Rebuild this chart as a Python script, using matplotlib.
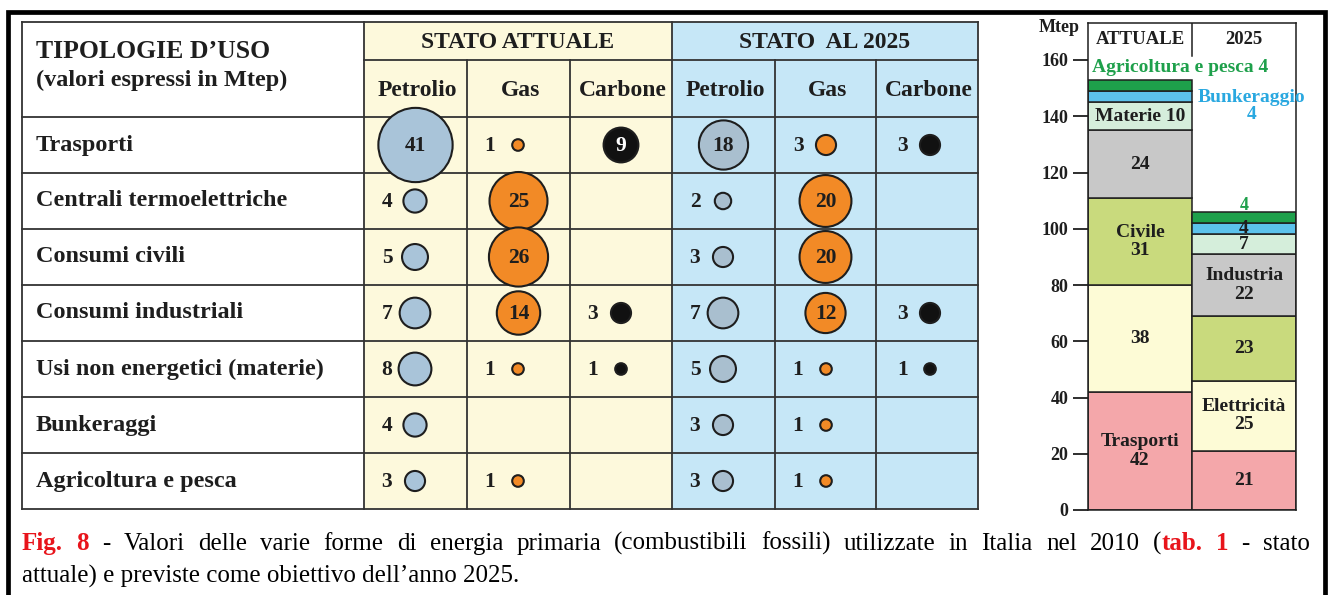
import numpy as np
import matplotlib
matplotlib.use("Agg")
import matplotlib.pyplot as plt
from matplotlib.patches import Circle, Rectangle

plt.rcParams['font.family'] = ['Liberation Serif', 'DejaVu Serif']

# --- table data (Mtep) ---
categories = ["Trasporti", "Centrali termoelettriche", "Consumi civili",
              "Consumi industriali", "Usi non energetici (materie)",
              "Bunkeraggi", "Agricoltura e pesca"]
fuels = ["Petrolio", "Gas", "Carbone"]
attuale_petrolio = [41, 4, 5, 7, 8, 4, 3]
attuale_gas = [1, 25, 26, 14, 1, None, 1]
attuale_carbone = [9, None, None, 3, 1, None, None]
s2025_petrolio = [18, 2, 3, 7, 5, 3, 3]
s2025_gas = [3, 20, 20, 12, 1, 1, 1]
s2025_carbone = [3, None, None, 3, 1, None, None]

# --- stacked bar data (Mtep) ---
bar_groups = ["ATTUALE", "2025"]
bar_attuale = [42, 38, 31, 24, 10, 4, 4]
bar_2025 = [21, 25, 23, 22, 7, 4, 4]
labels_attuale = ["Trasporti\n42", "38", "Civile\n31", "24", "Materie 10", "", ""]
labels_2025 = ["21", "Elettricità\n25", "23", "Industria\n22", "7", "4", ""]
bar_yticks = [0, 20, 40, 60, 80, 100, 120, 140, 160]

seg_colors = ["#f4a7aa", "#fdfbd6", "#c9da7d", "#c8c8c8", "#d5eedb", "#5cc2ec", "#1ea04b"]
fuel_colors = ["#a9c4d9", "#f28a26", "#111111"]
ink = "#1e1e1e"

fig = plt.figure(figsize=(13.28, 5.95), dpi=100)
ax = fig.add_axes([0, 0, 1, 1])
ax.set_xlim(0, 1328)
ax.set_ylim(595, 0)
ax.axis("off")

# outer frame
ax.plot([8, 8, 1325, 1325], [598, 12, 12, 598], color="black", lw=3.4,
        solid_joinstyle="miter", zorder=5)

# table geometry (pixels)
x_left = 22
col_x = [364, 467, 570, 672, 775, 876, 978]
y_top, y_head, y_sub = 22, 60, 117
row_h = 56
y_rows = [y_sub + i * row_h for i in range(len(categories) + 1)]
y_bot = y_rows[-1]

ax.add_patch(Rectangle((col_x[0], y_top), col_x[3] - col_x[0], y_bot - y_top,
                       fc="#fdf9dc", ec="none", zorder=0))
ax.add_patch(Rectangle((col_x[3], y_top), col_x[6] - col_x[3], y_bot - y_top,
                       fc="#c6e7f7", ec="none", zorder=0))

lw_grid = 1.3
for y in [y_top] + y_rows:
    ax.plot([x_left, col_x[6]], [y, y], color="#333", lw=lw_grid, zorder=1)
ax.plot([col_x[0], col_x[6]], [y_head, y_head], color="#333", lw=lw_grid, zorder=1)
for x in [x_left, col_x[0], col_x[3], col_x[6]]:
    ax.plot([x, x], [y_top, y_bot], color="#333", lw=lw_grid, zorder=1)
for x in [col_x[1], col_x[2], col_x[4], col_x[5]]:
    ax.plot([x, x], [y_head, y_bot], color="#333", lw=lw_grid, zorder=1)

bold = dict(fontweight="bold", color=ink)
ax.text(36, 52, "TIPOLOGIE D’USO", fontsize=18.5, va="center", ha="left", **bold)
ax.text(36, 80, "(valori espressi in Mtep)", fontsize=17.5, va="center", ha="left", **bold)
ax.text((col_x[0] + col_x[3]) / 2, 42, "STATO ATTUALE", fontsize=17, ha="center", va="center", **bold)
ax.text((col_x[3] + col_x[6]) / 2, 42, "STATO  AL 2025", fontsize=17, ha="center", va="center", **bold)
for k in range(6):
    ax.text((col_x[k] + col_x[k + 1]) / 2 + 2, 90, fuels[k % 3], fontsize=17,
            ha="center", va="center", **bold)

for i, name in enumerate(categories):
    ax.text(36, y_rows[i] + row_h / 2, name, fontsize=17.5, ha="left", va="center", **bold)

columns = [attuale_petrolio, attuale_gas, attuale_carbone,
           s2025_petrolio, s2025_gas, s2025_carbone]
for k, vals in enumerate(columns):
    left = col_x[k]
    fc = fuel_colors[k % 3]
    if k == 3:
        fc = "#a9bfcf"
    for i, v in enumerate(vals):
        if v is None:
            continue
        cy = y_rows[i] + row_h / 2
        r = 5.8 * np.sqrt(v)
        if v >= 9:
            cx = (left + col_x[k + 1]) / 2
            ax.add_patch(Circle((cx, cy), r, fc=fc, ec=ink, lw=1.5, zorder=3))
            tc = "white" if k % 3 == 2 else ink
            ax.text(cx, cy + 1, str(v), fontsize=15.5, ha="center", va="center",
                    fontweight="bold", color=tc, zorder=4)
        else:
            cx = left + (54 if k == 5 else 51)
            ax.add_patch(Circle((cx, cy), r, fc=fc, ec=ink, lw=1.5, zorder=3))
            ax.text(left + (27 if k == 5 else 23), cy + 1, str(v), fontsize=15.5,
                    ha="center", va="center", zorder=4, **bold)

# caption (line 1 justified)
red = "#e8141b"
groups = [[("Fig.", red, "bold")], [("8", red, "bold")], [("-", "black", "normal")]]
for w in "Valori delle varie forme di energia primaria (combustibili fossili) utilizzate in Italia nel 2010".split():
    groups.append([(w, "black", "normal")])
groups += [[("(", "black", "normal"), ("tab.", red, "bold")], [("1", red, "bold")],
           [("-", "black", "normal")], [("stato", "black", "normal")]]
cap_size = 18
fig.canvas.draw()
rend = fig.canvas.get_renderer()
placed = []
total = 0
for g in groups:
    items = []
    gw = 0
    for s, c, wgt in g:
        t = ax.text(0, 550, s, fontsize=cap_size, color=c, fontweight=wgt,
                    ha="left", va="baseline")
        wdt = t.get_window_extent(rend).width
        items.append((t, wdt))
        gw += wdt
    placed.append((items, gw))
    total += gw
x0, x1 = 22, 1310
gap = (x1 - x0 - total) / (len(groups) - 1)
x = x0
for items, gw in placed:
    xx = x
    for t, wdt in items:
        t.set_x(xx)
        xx += wdt
    x += gw + gap
ax.text(22, 583, "attuale) e previste come obiettivo dell’anno 2025.", fontsize=cap_size,
        color="black", ha="left", va="baseline")

# --- stacked bar chart ---
px_per = 2.8125
bax = fig.add_axes([1088 / 1328, (595 - 510) / 595, 208 / 1328, 487 / 595])
bax.set_xlim(0, 2)
bax.set_ylim(0, 487 / px_per)
bax.patch.set_alpha(0)
for xpos, vals, labs in [(0.5, bar_attuale, labels_attuale), (1.5, bar_2025, labels_2025)]:
    bottom = 0
    for v, c, lab in zip(vals, seg_colors, labs):
        bax.bar(xpos, v, width=1, bottom=bottom, color=c, edgecolor=ink, linewidth=1.1)
        if lab:
            bax.text(xpos, bottom + v / 2, lab, ha="center", va="center", fontsize=14,
                     fontweight="bold", color=ink, linespacing=1.1)
        bottom += v
top_val = 487 / px_per
for xpos, name in zip([0.5, 1.5], bar_groups):
    bax.text(xpos, (510 - 40) / px_per, name, ha="center", va="center", fontsize=13.5,
             fontweight="bold", color=ink)
bax.plot([1, 1], [(510 - 56) / px_per, top_val], color=ink, lw=1.1)
bax.text(0.04, (510 - 67) / px_per, "Agricoltura e pesca 4", ha="left", va="center",
         fontsize=14, fontweight="bold", color="#1ea04b")
bax.text(1.57, (510 - 106) / px_per, "Bunkeraggio\n4", ha="center", va="center",
         fontsize=14, fontweight="bold", color="#29a8e0", linespacing=0.95, clip_on=False)
bax.text(1.5, (510 - 205) / px_per, "4", ha="center", va="center",
         fontsize=13, fontweight="bold", color="#1ea04b")

for sp in bax.spines.values():
    sp.set_color(ink)
    sp.set_linewidth(1.1)
bax.set_xticks([])
bax.set_yticks(bar_yticks)
bax.tick_params(axis="y", length=11, width=1.3, pad=3, labelsize=13, colors=ink)
for lbl in bax.get_yticklabels():
    lbl.set_fontweight("bold")
ax.text(1059, 28, "Mtep", ha="center", va="center", fontsize=13, **bold)

fig.savefig("out.png", dpi=100)
